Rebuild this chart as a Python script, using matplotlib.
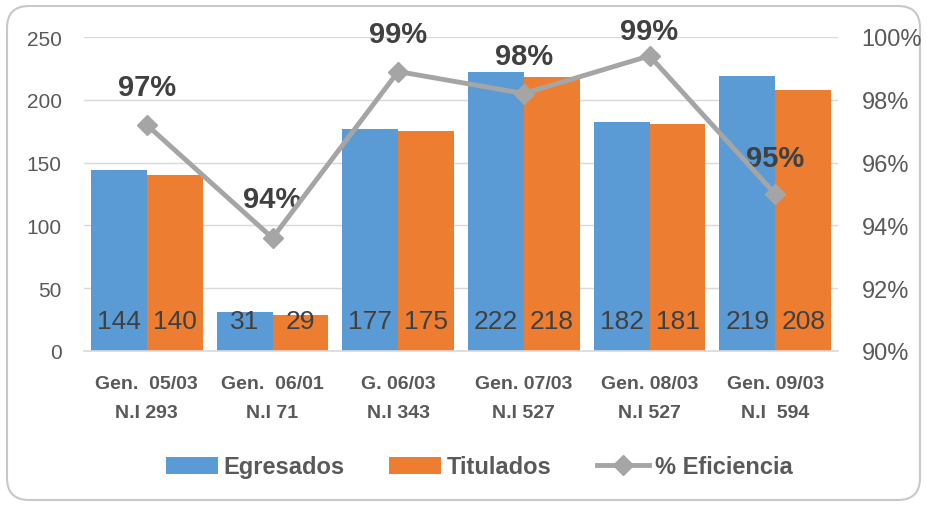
import matplotlib.pyplot as plt
import numpy as np
from matplotlib.patches import FancyBboxPatch

categories = [
    "Gen.  05/03\nN.I 293",
    "Gen.  06/01\nN.I 71",
    "G. 06/03\nN.I 343",
    "Gen. 07/03\nN.I 527",
    "Gen. 08/03\nN.I 527",
    "Gen. 09/03\nN.I  594",
]
egresados = [144, 31, 177, 222, 182, 219]
titulados = [140, 29, 175, 218, 181, 208]
eficiencia = [97.2, 93.6, 98.9, 98.2, 99.4, 95.0]
label_offsets = [27, 28, 27, 27, 18, 26]  # points above marker

BLUE = "#5B9BD5"
ORANGE = "#ED7D31"
GRAY = "#A5A5A5"
TEXT = "#404040"
TICK = "#595959"
FONT = ["Liberation Sans", "DejaVu Sans"]

plt.rcParams["font.family"] = FONT

fig = plt.figure(figsize=(9.27, 5.06), dpi=100)

# rounded border around the chart
frame = fig.add_axes([0, 0, 1, 1], zorder=-1)
frame.set_xlim(0, 927)
frame.set_ylim(506, 0)
frame.axis("off")
frame.add_patch(FancyBboxPatch((7, 7), 913, 494, boxstyle="round,pad=0,rounding_size=22",
                               fill=False, edgecolor="#C8C8C8", linewidth=1.5))

ax = fig.add_axes([84 / 927, 1 - 352 / 506, 754 / 927, 314 / 506])
ax.patch.set_alpha(0)
x = np.arange(len(categories))
width = 0.445
b1 = ax.bar(x - width / 2, egresados, width, color=BLUE, label="Egresados", zorder=2)
b2 = ax.bar(x + width / 2, titulados, width, color=ORANGE, label="Titulados", zorder=2)

for bars, vals in ((b1, egresados), (b2, titulados)):
    for rect, v in zip(bars, vals):
        ax.text(rect.get_x() + rect.get_width() / 2, 24, str(v), ha="center", va="center",
                fontsize=19, color=TEXT, zorder=3)

ax.set_xlim(-0.5, len(categories) - 0.5)
ax.set_ylim(0, 250)
ax.set_yticks(np.arange(0, 251, 50))
ax.yaxis.grid(True, color="#D9D9D9", linewidth=1, zorder=0)
ax.set_axisbelow(True)
for side in ("top", "right", "left"):
    ax.spines[side].set_visible(False)
ax.spines["bottom"].set_color("#D9D9D9")
ax.spines["bottom"].set_linewidth(1.2)
ax.tick_params(axis="both", length=0)
ax.tick_params(axis="y", labelsize=15, labelcolor=TICK, pad=16)
ax.set_xticks(x)
ax.set_xticklabels(categories, fontsize=14, fontweight="bold", color=TICK, linespacing=1.9)
ax.tick_params(axis="x", pad=17.5)

ax2 = ax.twinx()
line, = ax2.plot(x, eficiencia, color=GRAY, linewidth=3.5, marker="D", markersize=10,
                 label="% Eficiencia", zorder=4)
ax2.set_ylim(90, 100)
ax2.set_yticks(np.arange(90, 101, 2))
ax2.set_yticklabels([f"{t}%" for t in range(90, 101, 2)])
ax2.tick_params(axis="y", length=0, labelsize=17, labelcolor=TICK, pad=17)
for side in ("top", "right", "left", "bottom"):
    ax2.spines[side].set_visible(False)

for xi, v, off in zip(x, eficiencia, label_offsets):
    ax2.annotate(f"{v:.0f}%", (xi, v), xytext=(0, off), textcoords="offset points",
                 ha="center", va="center", fontsize=21, fontweight="bold", color=TEXT,
                 annotation_clip=False)

fig.legend(handles=[b1, b2, line], labels=["Egresados", "Titulados", "% Eficiencia"],
           loc="center", bbox_to_anchor=(479 / 927, 1 - 468 / 506), ncol=3, frameon=False,
           prop={"size": 17, "weight": "bold"}, handlelength=2.2, handleheight=0.75,
           handletextpad=0.25, columnspacing=1.9, labelcolor=TICK)

fig.savefig("out.png", dpi=100)
